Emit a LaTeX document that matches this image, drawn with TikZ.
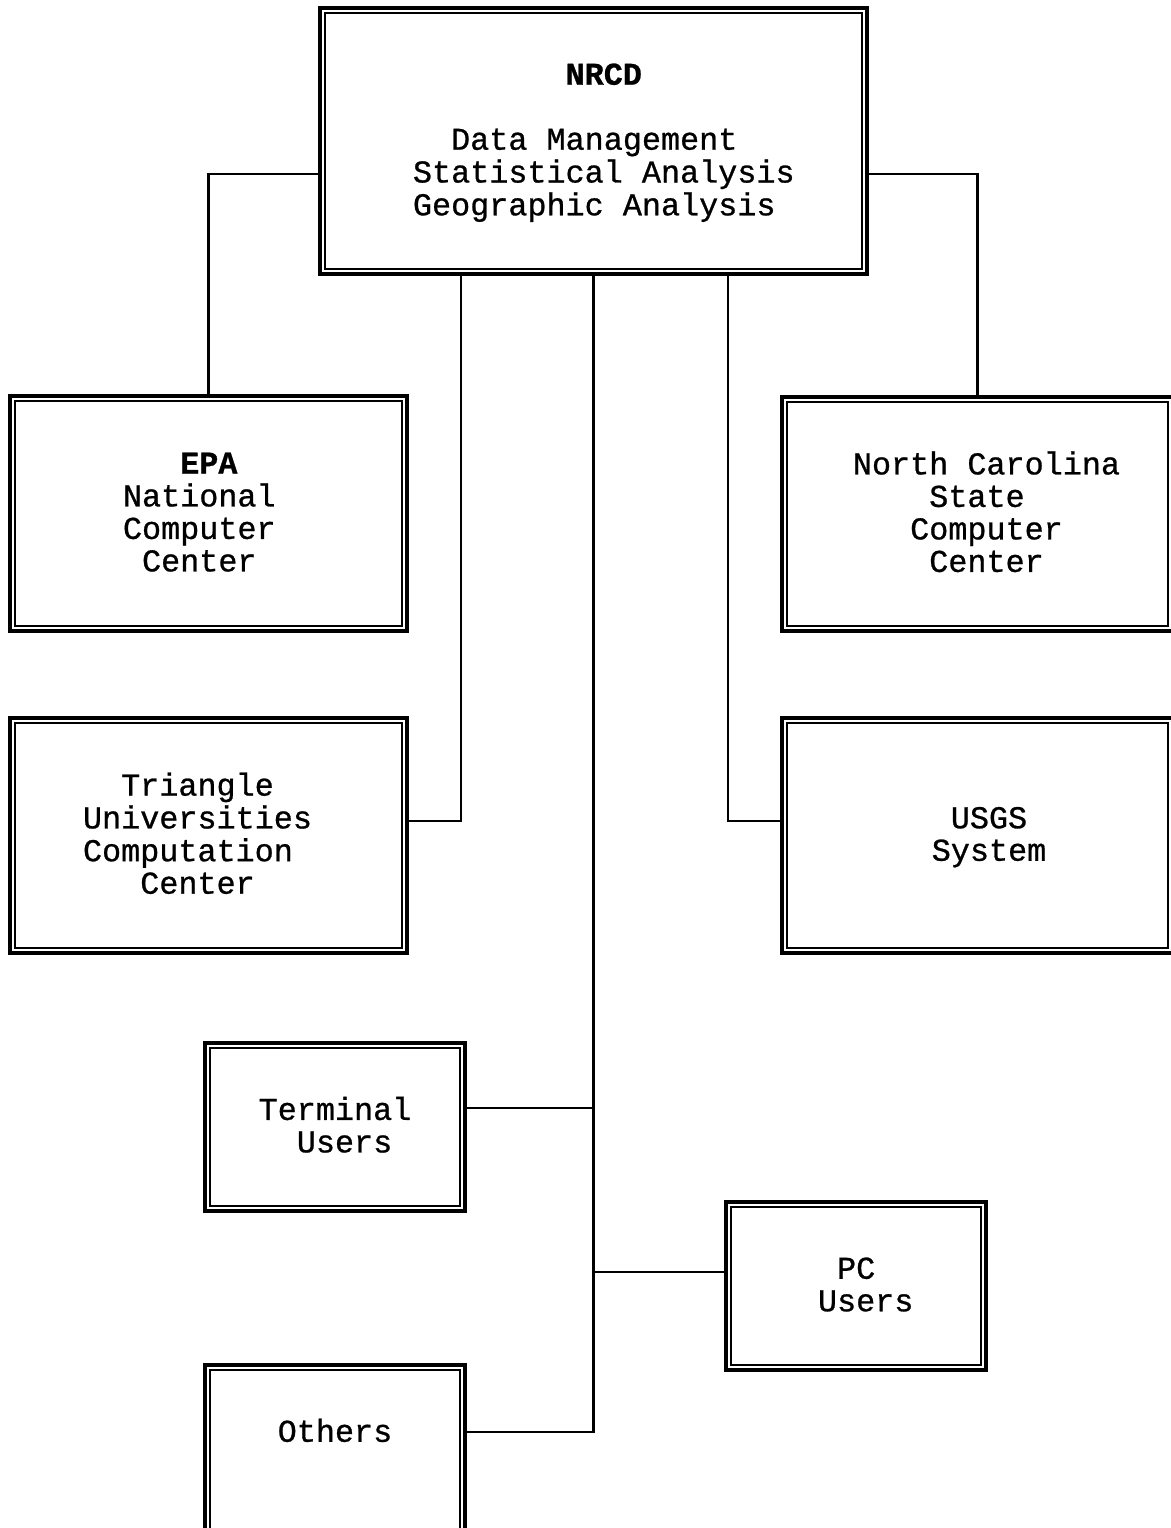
\documentclass[tikz,border=0pt]{standalone}
\usepackage{fontspec}
\newfontfamily\cour{Liberation Mono}[FakeBold=0.8]
\usetikzlibrary{calc}
\newcommand\ph[1]{\phantom{#1}}
\newcommand\lowr[1]{\raisebox{0pt}[\dimexpr\height+2.5pt\relax][\depth]{#1}}
\begin{document}
\begin{tikzpicture}[x=0.5pt,y=-0.5pt,
  box/.style={draw, line width=1.6pt, rectangle, inner sep=0pt, align=center,
    font=\cour\fontsize{15.9}{16.25}\selectfont},
  inbox/.style={line width=0.95pt},
  wire/.style={line width=1.45pt}]
\useasboundingbox (0,0) rectangle (1171,1528);
\clip (0,0) rectangle (1171,1528);
\fill[white] (0,0) rectangle (1171,1528);

\node[box, minimum width=273.5pt, minimum height=133pt] (nrcd) at (593.5,141)
  {\lowr{\begin{tabular}{@{\hspace{10.3pt}}l@{}}
   \ph{xxxxxxxx}{\bfseries NRCD}\\ \\
   \ph{xx}Data Management\\Statistical Analysis\\Geographic Analysis\end{tabular}}};
\node[box, minimum width=198.5pt, minimum height=117.5pt] (epa) at (208.5,513.5)
  {\lowr{\begin{tabular}{@{}l@{\hspace{9.2pt}}}
   \ph{xxx}{\bfseries EPA}\\National\\Computer\\\ph{x}Center\end{tabular}}};
\node[box, minimum width=195.5pt, minimum height=117pt] (ncsu) at (977.5,514)
  {\lowr{\begin{tabular}{@{\hspace{9pt}}l@{}}
   North Carolina\\\ph{xxxx}State\\\ph{xxx}Computer\\\ph{xxxx}Center\end{tabular}}};
\node[box, minimum width=198.5pt, minimum height=117.5pt] (tri) at (208.5,835.5)
  {\lowr{\begin{tabular}{@{}l@{\hspace{11pt}}}
   \ph{xx}Triangle\\Universities\\Computation\\\ph{xxx}Center\end{tabular}}};
\node[box, minimum width=195.5pt, minimum height=117.5pt] (usgs) at (977.5,835.5)
  {\lowr{\begin{tabular}{@{\hspace{11.5pt}}l@{}}
   \ph{x}USGS\\System\end{tabular}}};
\node[box, minimum width=130pt, minimum height=84pt] (term) at (335,1127)
  {\lowr{\begin{tabular}{@{}l@{}}
   Terminal\\\ph{xx}Users\end{tabular}}};
\node[box, minimum width=130pt, minimum height=84pt] (pc) at (856,1286)
  {\lowr{\begin{tabular}{@{\hspace{9.7pt}}l@{}}
   \ph{x}PC\\Users\end{tabular}}};
\node[box, minimum width=130pt, minimum height=87.5pt] (oth) at (335,1452.5)
  {Others\\[6pt]\mbox{}};

\foreach \n in {nrcd,epa,ncsu,tri,usgs,term,pc,oth}
  \draw[inbox] ($(\n.north west)+(7,7)$) rectangle ($(\n.south east)+(-7,-7)$);

\draw[wire] ($(nrcd.west)+(0,33)$) -| (epa.north);
\draw[wire] ($(nrcd.east)+(0,33)$) -| (ncsu.north);
\draw[wire] ($(nrcd.south)+(-132.5,0)$) |- ($(tri.east)+(0,-14.5)$);
\draw[wire] ($(nrcd.south)+(134.5,0)$) |- ($(usgs.west)+(0,-14.5)$);
\draw[wire] (nrcd.south) |- ($(oth.east)+(0,-20.5)$);
\coordinate (tj) at ($(term.east)+(0,-19)$);
\draw[wire] (tj) -- (tj -| nrcd.south);
\coordinate (pj) at ($(pc.west)+(0,-14)$);
\draw[wire] (pj -| nrcd.south) -- (pj);
\end{tikzpicture}
\end{document}
